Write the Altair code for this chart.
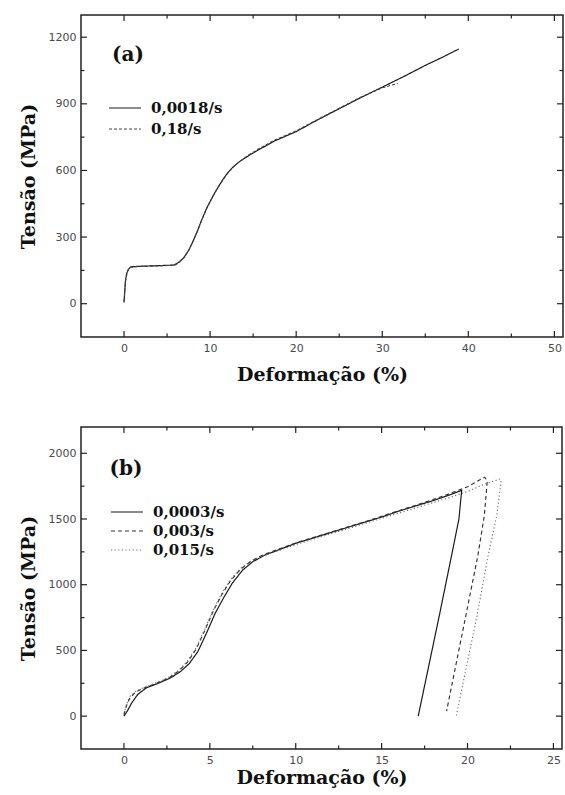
import altair as alt
import pandas as pd

# ---------------- panel (a) ----------------
a_rates = ["0,0018/s", "0,18/s"]

a_strain_slow = [0, 0.08, 0.15, 0.3, 0.5, 0.8, 1.5, 3.0, 4.5, 5.8, 6.3, 6.9, 7.5, 8.0, 8.5,
                 9.0, 9.6, 10.2, 10.7, 11.3, 11.6, 12.1, 12.7, 13.5, 14.5, 15.5, 17.5, 20.0,
                 22.5, 25.0, 27.5, 30.0, 32.5, 35.0, 37.0, 38.9]
a_stress_slow = [5, 50, 98, 135, 155, 166, 168, 170, 172, 174, 185, 205, 240, 280, 325,
                 375, 430, 475, 510, 548, 566, 592, 617, 642, 667, 690, 733, 775,
                 828, 878, 928, 975, 1023, 1073, 1110, 1147]

a_strain_fast = [0, 0.1, 0.2, 0.4, 0.7, 1.5, 3.0, 4.5, 5.9, 6.4, 7.0, 7.6, 8.1, 8.6, 9.1,
                 9.7, 10.3, 10.8, 11.4, 12.0, 12.6, 13.4, 14.4, 15.5, 17.5, 20.0, 22.5,
                 25.0, 27.5, 30.0, 31.8]
a_stress_fast = [10, 70, 110, 145, 163, 167, 169, 171, 173, 186, 208, 245, 288, 333, 383,
                 437, 482, 515, 552, 585, 612, 640, 668, 694, 737, 778, 830,
                 880, 930, 972, 992]

a_x_major = [0, 10, 20, 30, 40, 50]
a_x_minor = [5, 15, 25, 35, 45]
a_y_major = [0, 300, 600, 900, 1200]
a_y_minor = [150, 450, 750, 1050]

# ---------------- panel (b) ----------------
b_rates = ["0,0003/s", "0,003/s", "0,015/s"]

b_strain_1 = [0, 0.2, 0.45, 0.8, 1.3, 2.0, 2.7, 3.3, 3.8, 4.3, 4.8, 5.3, 5.8, 6.3, 6.9,
              7.5, 8.2, 9.0, 10.0, 11.0, 12.0, 13.0, 14.0, 15.0, 16.0, 17.0, 18.0, 19.0,
              19.66, 19.5, 19.07, 18.35, 17.13]
b_stress_1 = [0, 40, 100, 165, 215, 250, 290, 340, 400, 490, 630, 780, 900, 1010, 1110,
              1175, 1225, 1265, 1315, 1355, 1395, 1435, 1475, 1515, 1560, 1600, 1640, 1685,
              1718, 1500, 1221, 760, 0]

b_strain_2 = [0, 0.15, 0.35, 0.7, 1.2, 1.9, 2.6, 3.2, 3.7, 4.2, 4.7, 5.2, 5.7, 6.2, 6.8,
              7.4, 8.1, 9.0, 10.0, 11.0, 12.0, 13.0, 14.0, 15.0, 16.0, 17.0, 18.0, 19.0,
              20.0, 20.6, 21.0, 21.15, 20.98, 20.6, 19.9, 18.78]
b_stress_2 = [10, 80, 140, 185, 215, 250, 290, 345, 410, 510, 650, 800, 925, 1030, 1120,
              1180, 1228, 1270, 1318, 1358, 1398, 1438, 1478, 1520, 1563, 1605, 1648, 1695,
              1745, 1790, 1818, 1790, 1527, 1221, 763, 38]

b_strain_3 = [0, 0.15, 0.35, 0.7, 1.2, 1.9, 2.6, 3.2, 3.7, 4.2, 4.7, 5.2, 5.7, 6.2, 6.8,
              7.4, 8.1, 9.0, 10.0, 11.0, 12.0, 13.0, 14.0, 15.0, 16.0, 17.0, 18.0, 19.0,
              20.0, 21.0, 21.9, 21.95, 21.7, 21.2, 20.55, 19.35]
b_stress_3 = [20, 90, 150, 190, 220, 255, 295, 350, 420, 520, 660, 810, 935, 1040, 1125,
              1180, 1222, 1260, 1305, 1345, 1385, 1425, 1465, 1505, 1545, 1585, 1625, 1665,
              1710, 1765, 1805, 1780, 1527, 1221, 763, 5]

b_x_major = [0, 5, 10, 15, 20, 25]
b_x_minor = [2.5, 7.5, 12.5, 17.5, 22.5]
b_y_major = [0, 500, 1000, 1500, 2000]
b_y_minor = [250, 750, 1250, 1750]

SERIF = "DejaVu Serif"
SANS = "DejaVu Sans"
FRAME = "#222222"


def curves(rates, strains, stresses):
    rows = []
    for rate, xs, ys in zip(rates, strains, stresses):
        for i, (x, y) in enumerate(zip(xs, ys)):
            rows.append({"rate": rate, "seq": i, "strain": x, "stress": y})
    return pd.DataFrame(rows)


def edge_ticks(vals, channel, side, length, xscale, yscale, W, H):
    # inward tick marks along one edge of the frame
    base = alt.Chart(pd.DataFrame({"v": vals})).mark_rule(color=FRAME, strokeWidth=1.2)
    if channel == "x":
        enc = {"x": alt.X("v:Q", scale=xscale)}
        if side == "bottom":
            enc.update(y=alt.value(H), y2=alt.value(H - length))
        else:
            enc.update(y=alt.value(0), y2=alt.value(length))
    else:
        enc = {"y": alt.Y("v:Q", scale=yscale)}
        if side == "left":
            enc.update(x=alt.value(0), x2=alt.value(length))
        else:
            enc.update(x=alt.value(W), x2=alt.value(W - length))
    return base.encode(**enc)


def panel(df, rates, dashes, colors, widths, xdom, ydom, xmaj, xmin, ymaj, ymin, tag,
          W, H, tag_pos, leg_x, leg_y0, leg_dy, x_title_pad):
    xscale = alt.Scale(domain=xdom, nice=False, zero=False)
    yscale = alt.Scale(domain=ydom, nice=False, zero=False)
    common_axis = dict(ticks=False, domain=False, grid=False,
                       labelFont=SANS, labelFontSize=11, labelColor="#4a4a4a",
                       labelPadding=5, titleFont=SERIF, titleFontWeight="bold",
                       titleFontSize=19, titleColor="#111111", format="d")
    lines = alt.Chart(df).mark_line(clip=True).encode(
        x=alt.X("strain:Q", scale=xscale,
                axis=alt.Axis(values=xmaj, title="Deformação (%)",
                              titlePadding=x_title_pad, **common_axis)),
        y=alt.Y("stress:Q", scale=yscale,
                axis=alt.Axis(values=ymaj, title="Tensão (MPa)",
                              titlePadding=10, **common_axis)),
        order=alt.Order("seq:Q"),
        detail="rate:N",
        strokeDash=alt.StrokeDash("rate:N", scale=alt.Scale(domain=rates, range=dashes),
                                  legend=None),
        color=alt.Color("rate:N", scale=alt.Scale(domain=rates, range=colors), legend=None),
        strokeWidth=alt.StrokeWidth("rate:N", scale=alt.Scale(domain=rates, range=widths),
                                    legend=None),
    )

    layers = [lines]
    for vals, length in ((xmaj, 6), (xmin, 3.5)):
        layers.append(edge_ticks(vals, "x", "bottom", length, xscale, yscale, W, H))
        layers.append(edge_ticks(vals, "x", "top", length, xscale, yscale, W, H))
    for vals, length in ((ymaj, 6), (ymin, 3.5)):
        layers.append(edge_ticks(vals, "y", "left", length, xscale, yscale, W, H))
        layers.append(edge_ticks(vals, "y", "right", length, xscale, yscale, W, H))

    # panel tag
    layers.append(
        alt.Chart(pd.DataFrame({"t": [tag]})).mark_text(
            font=SERIF, fontWeight="bold", fontSize=20, color="#111111",
            align="center", baseline="middle"
        ).encode(text="t:N", x=alt.value(tag_pos[0]), y=alt.value(tag_pos[1]))
    )

    # legend: sample stroke + label for each rate
    for i, (rate, dash, col, sw) in enumerate(zip(rates, dashes, colors, widths)):
        yy = leg_y0 + i * leg_dy
        one = pd.DataFrame({"rate": [rate]})
        layers.append(
            alt.Chart(one).mark_rule(strokeDash=dash, color=col, strokeWidth=sw).encode(
                x=alt.value(leg_x), x2=alt.value(leg_x + 32), y=alt.value(yy)
            )
        )
        layers.append(
            alt.Chart(one).mark_text(
                font=SERIF, fontWeight="bold", fontSize=15, color="#111111",
                align="left", baseline="middle"
            ).encode(text="rate:N", x=alt.value(leg_x + 42), y=alt.value(yy))
        )

    return alt.layer(*layers).properties(width=W, height=H)


df_a = curves(a_rates, [a_strain_slow, a_strain_fast], [a_stress_slow, a_stress_fast])
df_b = curves(b_rates, [b_strain_1, b_strain_2, b_strain_3], [b_stress_1, b_stress_2, b_stress_3])

top = panel(df_a, a_rates, [[1, 0], [3, 2]], ["#1a1a1a", "#444444"], [1.2, 1.1],
            [-5, 51], [-150, 1300], a_x_major, a_x_minor, a_y_major, a_y_minor, "(a)",
            482, 322, (47, 40), 28, 93, 21, 12)

bottom = panel(df_b, b_rates, [[1, 0], [4, 3], [1.2, 2.4]],
               ["#1a1a1a", "#333333", "#6a6a6a"], [1.2, 1.1, 1.1],
               [-2.5, 25.5], [-250, 2200], b_x_major, b_x_minor, b_y_major, b_y_minor, "(b)",
               481, 322, (45, 42), 30, 85, 19, 3)

chart = alt.vconcat(top, bottom, spacing=40).resolve_scale(
    color="independent", strokeDash="independent", strokeWidth="independent"
).properties(
    padding={"left": 18, "top": 13, "right": 0, "bottom": 0},
    background="white",
).configure_view(stroke=FRAME, strokeWidth=1.5)

chart.save("out.html", embed_options={"renderer": "svg", "actions": False})
